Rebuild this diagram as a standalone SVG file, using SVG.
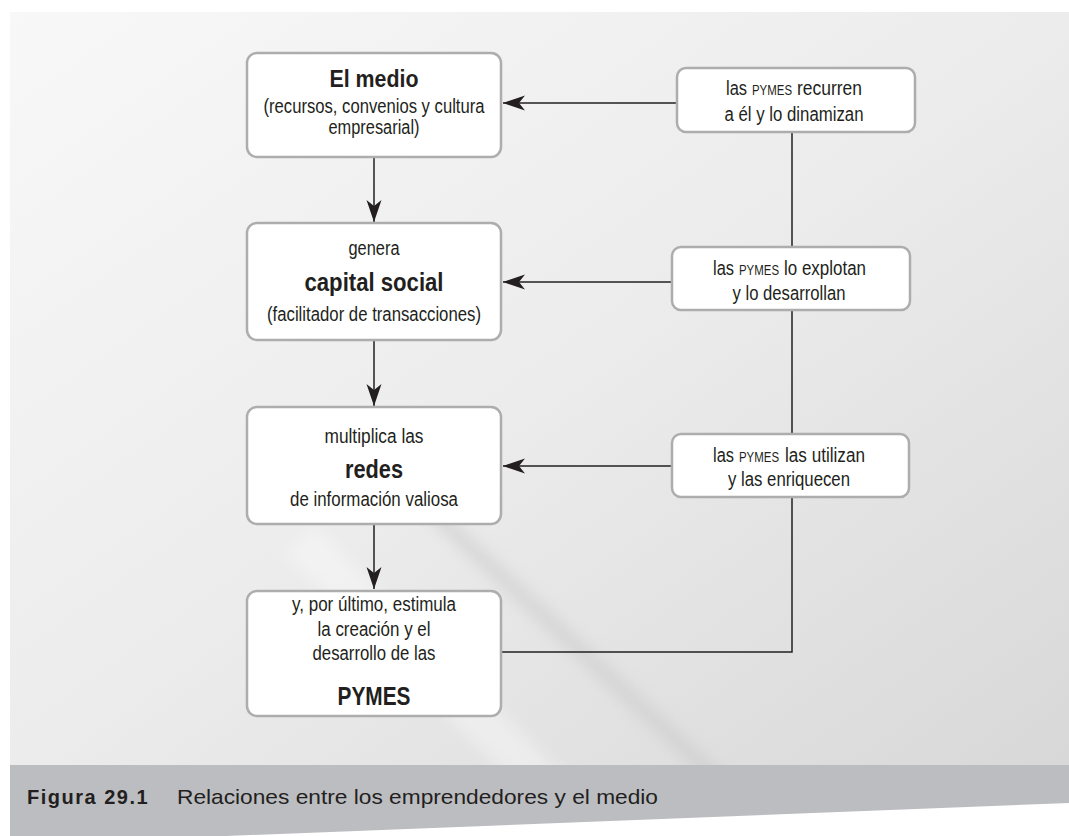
<svg xmlns="http://www.w3.org/2000/svg" width="1069" height="836" viewBox="0 0 1069 836">
<defs>
<linearGradient id="bg" x1="0" y1="0" x2="1" y2="1">
<stop offset="0" stop-color="#f8f8f8"/>
<stop offset="0.5" stop-color="#ececec"/>
<stop offset="1" stop-color="#d8d8d8"/>
</linearGradient>
<filter id="blur" x="-50%" y="-50%" width="200%" height="200%">
<feGaussianBlur stdDeviation="8"/>
</filter>
<clipPath id="panel"><rect x="10" y="12" width="1059" height="753"/></clipPath>
<marker id="ah" markerUnits="userSpaceOnUse" markerWidth="24" markerHeight="16" viewBox="-23 -8 24 16" refX="0" refY="0" orient="auto">
<path d="M0,0 L-22,-7.5 L-16,0 L-22,7.5 Z" fill="#231f20"/>
</marker>
<style>
.box{fill:#ffffff;stroke:#adadaf;stroke-width:2.5}
.t{font-family:"Liberation Sans",Arial,sans-serif;fill:#231f20;text-anchor:middle;font-size:20px}
.s{font-family:"Liberation Sans",Arial,sans-serif;fill:#231f20;font-size:20px}
.sc{font-family:"Liberation Sans",Arial,sans-serif;fill:#231f20;font-size:14px}
.h{font-family:"Liberation Sans",Arial,sans-serif;fill:#231f20;text-anchor:middle;font-weight:bold;font-size:26px}
.ln{fill:none;stroke:#231f20;stroke-width:1.5}
.cap{font-family:"Liberation Sans",Arial,sans-serif;fill:#231f20;font-size:21px}
.capb{font-family:"Liberation Sans",Arial,sans-serif;fill:#231f20;font-size:20px;font-weight:bold;letter-spacing:1.5px}
</style>
</defs>
<rect x="0" y="0" width="1069" height="836" fill="#ffffff"/>
<rect x="10" y="12" width="1059" height="753" fill="url(#bg)"/>
<g clip-path="url(#panel)">
<line x1="420" y1="500" x2="740" y2="800" stroke="#c4c4c4" stroke-width="14" opacity="0.55" filter="url(#blur)"/>
<line x1="300" y1="540" x2="560" y2="800" stroke="#ffffff" stroke-width="40" opacity="0.35" filter="url(#blur)"/>
</g>
<polygon points="10,765 1069,765 1069,803 226,836 10,836" fill="#bcbdc0"/>
<text class="capb" x="27" y="804">Figura 29.1</text>
<text class="cap" x="177" y="804" textLength="481" lengthAdjust="spacingAndGlyphs">Relaciones entre los emprendedores y el medio</text>

<g id="connectors">
<polyline class="ln" points="501,652 792,652 792,132"/>
<line class="ln" x1="374" y1="157" x2="374" y2="222" marker-end="url(#ah)"/>
<line class="ln" x1="374" y1="340" x2="374" y2="406" marker-end="url(#ah)"/>
<line class="ln" x1="374" y1="524" x2="374" y2="589" marker-end="url(#ah)"/>
<line class="ln" x1="677" y1="103" x2="503" y2="103" marker-end="url(#ah)"/>
<line class="ln" x1="672" y1="282" x2="503" y2="282" marker-end="url(#ah)"/>
<line class="ln" x1="672" y1="466" x2="503" y2="466" marker-end="url(#ah)"/>
</g>

<g id="medio">
<rect class="box" x="247" y="53" width="254" height="104" rx="10"/>
<text class="h" x="374" y="87" style="font-size:24px" textLength="89" lengthAdjust="spacingAndGlyphs">El medio</text>
<text class="t" x="374" y="113" textLength="221" lengthAdjust="spacingAndGlyphs">(recursos, convenios y cultura</text>
<text class="t" x="374" y="134" textLength="91" lengthAdjust="spacingAndGlyphs">empresarial)</text>
</g>

<g id="capital">
<rect class="box" x="247" y="223" width="254" height="117" rx="10"/>
<text class="t" x="374" y="255" textLength="51" lengthAdjust="spacingAndGlyphs">genera</text>
<text class="h" x="374" y="291" textLength="139" lengthAdjust="spacingAndGlyphs">capital social</text>
<text class="t" x="374" y="321" textLength="214" lengthAdjust="spacingAndGlyphs">(facilitador de transacciones)</text>
</g>

<g id="redes">
<rect class="box" x="247" y="407" width="254" height="117" rx="10"/>
<text class="t" x="374" y="443" textLength="99" lengthAdjust="spacingAndGlyphs">multiplica las</text>
<text class="h" x="374" y="478" textLength="58" lengthAdjust="spacingAndGlyphs">redes</text>
<text class="t" x="374" y="506" textLength="168" lengthAdjust="spacingAndGlyphs">de información valiosa</text>
</g>

<g id="pymes">
<rect class="box" x="247" y="591" width="254" height="125" rx="10"/>
<text class="t" x="374" y="611" textLength="164" lengthAdjust="spacingAndGlyphs">y, por último, estimula</text>
<text class="t" x="374" y="636" textLength="113" lengthAdjust="spacingAndGlyphs">la creación y el</text>
<text class="t" x="374" y="660" textLength="123" lengthAdjust="spacingAndGlyphs">desarrollo de las</text>
<text class="h" x="374" y="705" textLength="73" lengthAdjust="spacingAndGlyphs">PYMES</text>
</g>

<g id="recurren">
<rect class="box" x="677" y="68" width="238" height="64" rx="9"/>
<text class="s" x="726" y="95" textLength="21" lengthAdjust="spacingAndGlyphs">las</text>
<text class="sc" x="752" y="95" textLength="40" lengthAdjust="spacingAndGlyphs">PYMES</text>
<text class="s" x="797" y="95" textLength="65" lengthAdjust="spacingAndGlyphs">recurren</text>
<text class="t" x="794" y="121" textLength="139" lengthAdjust="spacingAndGlyphs">a él y lo dinamizan</text>
</g>

<g id="explotan">
<rect class="box" x="672" y="247" width="238" height="63" rx="9"/>
<text class="s" x="713" y="275" textLength="21" lengthAdjust="spacingAndGlyphs">las</text>
<text class="sc" x="739" y="275" textLength="40" lengthAdjust="spacingAndGlyphs">PYMES</text>
<text class="s" x="784" y="275" textLength="82" lengthAdjust="spacingAndGlyphs">lo explotan</text>
<text class="t" x="789" y="300" textLength="113" lengthAdjust="spacingAndGlyphs">y lo desarrollan</text>
</g>

<g id="utilizan">
<rect class="box" x="672" y="434" width="237" height="63" rx="9"/>
<text class="s" x="713" y="462" textLength="21" lengthAdjust="spacingAndGlyphs">las</text>
<text class="sc" x="739" y="462" textLength="40" lengthAdjust="spacingAndGlyphs">PYMES</text>
<text class="s" x="785" y="462" textLength="80" lengthAdjust="spacingAndGlyphs">las utilizan</text>
<text class="t" x="789" y="486" textLength="122" lengthAdjust="spacingAndGlyphs">y las enriquecen</text>
</g>
</svg>
